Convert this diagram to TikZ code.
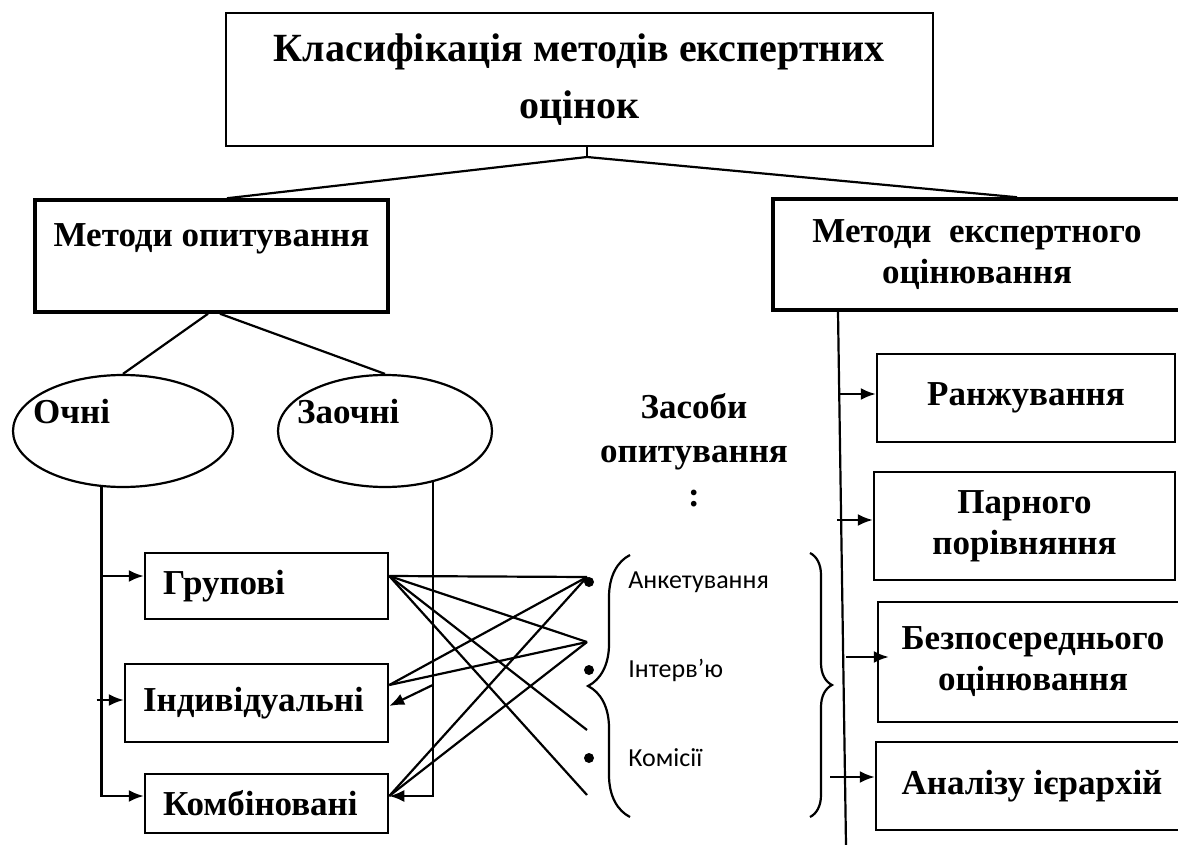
\documentclass[tikz,border=0pt]{standalone}
\usepackage{fontspec}
\setmainfont{Liberation Serif}
\newfontfamily\labelfont{Carlito}
\usetikzlibrary{positioning,arrows.meta,shapes.geometric,decorations.pathreplacing}

\begin{document}
\begin{tikzpicture}[x=1pt,y=-1pt,
      every node/.style={align=center,inner sep=0pt},
      head/.style={font=\bfseries\fontsize{35}{41}\selectfont},
      box/.style={draw,line width=2.5pt,head},
      bigbox/.style={box,line width=3.5pt},
      oval/.style={draw,ellipse,line width=2.2pt},
      dot/.style={circle,fill,minimum size=10pt},
      item/.style={font=\labelfont\fontsize{26}{30}\selectfont},
      link/.style={line width=2.2pt},
      arr/.style={link,-{Latex[length=15pt,width=12pt]}},
      brc/.style={link,decorate,decoration={brace,amplitude=#1}}]
    \useasboundingbox (0,0) rectangle (1178,845);
    \node[box,minimum width=707pt,minimum height=133pt,
          font=\bfseries\fontsize{40}{57}\selectfont] (root) at (579.5,79.5)
          {Класифікація методів експертних\\оцінок};
    \node[bigbox,minimum width=353pt,minimum height=112pt] (opyt) at (211.5,256)
          {Методи опитування\\\mbox{}};
    \node[bigbox,minimum width=408pt,minimum height=111pt] (eksp) at (977,254.5)
          {Методи~ експертного\\оцінювання};
    \coordinate (fork) at (587,157);
    \draw[link] ([xshift=7.5pt]root.south) -- (fork);
    \draw[link] (fork) -- ([xshift=15.5pt]opyt.north);
    \draw[link] (fork) -- ([xshift=40pt]eksp.north);
    % survey branch
    \node[oval,minimum width=220pt,minimum height=112pt] (ochni) at (123,431) {};
    \node[oval,minimum width=214pt,minimum height=112pt] (zaoch) at (385,431) {};
    \node[head,anchor=west] (ochnit) at (33,412) {Очні};
    \node[head,anchor=west] (zaocht) at (297,412) {Заочні};
    \draw[link] ([xshift=-3.5pt]opyt.south) -- (ochni.north);
    \draw[link] ([xshift=8.5pt]opyt.south) -- (zaoch.north);
    \node[box,minimum width=243pt,minimum height=66pt,text width=207pt,align=left]
          (grup) at (266.5,586) {Групові};
    \node[box,minimum width=263pt,minimum height=78pt,text width=227pt,align=left]
          (indiv) at (256.5,703) {Індивідуальні};
    \node[box,minimum width=243pt,minimum height=59pt,text width=207pt,align=left]
          (kombi) at (266.5,803.5) {Комбіновані};
    \coordinate (gin) at ([yshift=10pt]grup.west);
    \coordinate (iin) at ([yshift=3pt]indiv.west);
    \coordinate (kin) at ([yshift=7.5pt]kombi.west);
    \coordinate (ivl) at (ochni.249 |- iin);
    \draw[arr] (ochni.249) |- (kin);
    \draw[arr] (ochni.249 |- gin) -- (gin);
    \draw[arr] ([xshift=-5pt]ivl) -- (iin);
    \coordinate (gout) at ([yshift=10pt]grup.east);
    \coordinate (iout) at ([yshift=18pt]indiv.east);
    \coordinate (iarr) at ([yshift=-3pt]indiv.east);
    \coordinate (kout) at ([yshift=7.5pt]kombi.east);
    \draw[arr] (zaoch.-47) |- (kout);
    \draw[arr] (iout -| zaoch.-47) -- (iarr);
    % means of survey
    \node[head,font=\bfseries\fontsize{35}{44}\selectfont] (zasoby) at (694,450)
          {Засоби\\опитування\\:};
    \node[dot] (dA) at (589,582) {};
    \node[dot] (dI) at (589,670) {};
    \node[dot] (dK) at (589,758) {};
    \node[item,right=34pt of dA] (anket) {Анкетування};
    \node[item,right=34pt of dI] (interv) {Інтерв’ю};
    \node[item,right=34pt of dK] (komis) {Комісії};
    \coordinate (pA) at (587,577);
    \coordinate (pI) at (587,642);
    \coordinate (pK1) at (587,730);
    \coordinate (pK2) at (587,795);
    \draw[link] (gout) -- (pA);
    \draw[link] (gout) -- (pI);
    \draw[link] (gout) -- (pK1);
    \draw[link] (gout) -- (pK2);
    \draw[link] (iout) -- (pA);
    \draw[link] (iout) -- (pI);
    \draw[link] (pA) -- (kout);
    \draw[link] (pI) -- (kout);
    \coordinate (bl1) at (630,817);
    \coordinate (bl2) at (630,555);
    \draw[brc=42pt] (bl1) -- (bl2);
    \coordinate (br1) at (810,553);
    \coordinate (br2) at (810,817);
    \draw[brc=22pt] (br1) -- (br2);
    % expert evaluation branch
    \node[box,minimum width=298pt,minimum height=88pt] (rank) at (1026,398) {Ранжування};
    \node[box,minimum width=301pt,minimum height=108pt] (parn) at (1024.5,526)
          {Парного\\порівняння};
    \node[box,minimum width=310pt,minimum height=120pt] (bezp) at (1033,662)
          {Безпосереднього\\оцінювання};
    \node[box,minimum width=312pt,minimum height=88pt] (anal) at (1032,786)
          {Аналізу ієрархій};
    \coordinate (ttop) at (838,312);
    \coordinate (tbot) at (846,845);
    \draw[link] (ttop) -- (tbot);
    \coordinate (rin) at ([yshift=4pt]rank.west);
    \coordinate (pin) at ([yshift=6pt]parn.west);
    \coordinate (bin) at ([shift={(12pt,5pt)}]bezp.west);
    \coordinate (ain) at ([yshift=9pt]anal.west);
    \draw[arr] (rin -| ttop) -- (rin);
    \draw[arr] ([xshift=-1pt]pin -| ttop) -- (pin);
    \draw[arr] (bin -| tbot) -- (bin);
    \draw[arr] ([xshift=-8pt]ain -| ttop) -- (ain);
\end{tikzpicture}
\end{document}
